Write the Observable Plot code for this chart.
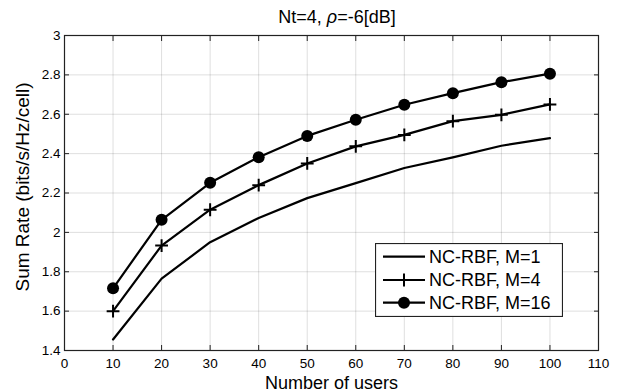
<!DOCTYPE html>
<html>
<head>
<meta charset="utf-8">
<script src="https://cdn.jsdelivr.net/npm/d3@7"></script>
<script src="https://cdn.jsdelivr.net/npm/@observablehq/plot@0.6"></script>
<style>
  html, body { margin: 0; padding: 0; background: #fff; }
  #wrap { position: relative; width: 620px; font-family: "Liberation Sans", Arial, sans-serif; }
  #title { height: 26px; line-height: 34px; font-size: 18px; text-align: center; padding-left: 76px; padding-right: 22px; color: #000; white-space: nowrap; }
  #legend { position: absolute; left: 375px; top: 243px; }
</style>
</head>
<body>
<div id="wrap">
  <div id="title">Nt=4, <i>ρ</i>=-6[dB]</div>
  <div id="chart"></div>
  <div id="legend"></div>
</div>
<script>
const users = [10, 20, 30, 40, 50, 60, 70, 80, 90, 100];
const rateM1 = [1.456, 1.765, 1.950, 2.073, 2.174, 2.250, 2.327, 2.381, 2.440, 2.479];
const rateM4 = [1.600, 1.933, 2.115, 2.240, 2.350, 2.437, 2.495, 2.565, 2.597, 2.650];
const rateM16 = [1.716, 2.064, 2.252, 2.382, 2.490, 2.572, 2.648, 2.707, 2.763, 2.806];
const seriesNames = ["NC-RBF, M=1", "NC-RBF, M=4", "NC-RBF, M=16"];
const xTicks = [0, 10, 20, 30, 40, 50, 60, 70, 80, 90, 100, 110];
const yTicks = [1.4, 1.6, 1.8, 2.0, 2.2, 2.4, 2.6, 2.8, 3.0];
const xLabel = "Number of users";
const yLabel = "Sum Rate (bits/s/Hz/cell)";

const toRows = (vals, name) => users.map((u, i) => ({users: u, rate: vals[i], series: name}));
const d1 = toRows(rateM1, seriesNames[0]);
const d4 = toRows(rateM4, seriesNames[1]);
const d16 = toRows(rateM16, seriesNames[2]);

const fmtY = d => String(+d.toFixed(1));
const font = "Liberation Sans, Arial, sans-serif";

const chart = Plot.plot({
  width: 620,
  height: 365,
  marginTop: 9,
  marginBottom: 41,
  marginLeft: 64,
  marginRight: 22,
  style: {fontFamily: font, background: "#fff", color: "#000", overflow: "visible"},
  x: {domain: [0, 110]},
  y: {domain: [1.4, 3]},
  marks: [
    Plot.gridX(xTicks, {stroke: "#000", strokeOpacity: 0.13, strokeWidth: 1}),
    Plot.gridY(yTicks, {stroke: "#000", strokeOpacity: 0.13, strokeWidth: 1}),
    Plot.axisX({ticks: xTicks, tickSize: -5, tickPadding: 13, fontSize: 13.5, stroke: "#222", label: null}),
    Plot.axisX({anchor: "top", ticks: xTicks, tickSize: -5, tickFormat: () => "", label: null, stroke: "#222"}),
    Plot.axisY({ticks: yTicks, tickSize: -5, tickPadding: 9, fontSize: 13.5, tickFormat: fmtY, stroke: "#222",
      label: yLabel, labelAnchor: "center", labelArrow: "none", labelOffset: 49}),
    Plot.axisY({anchor: "right", ticks: yTicks, tickSize: -5, tickFormat: () => "", label: null, stroke: "#222"}),
    Plot.text([xLabel], {frameAnchor: "bottom", lineAnchor: "bottom", dy: 38, fontSize: 18, fill: "#000"}),
    Plot.frame({stroke: "#222", strokeWidth: 1.2}),
    Plot.line(d1, {x: "users", y: "rate", stroke: "#000", strokeWidth: 2.2}),
    Plot.line(d4, {x: "users", y: "rate", stroke: "#000", strokeWidth: 2.2}),
    Plot.dot(d4, {x: "users", y: "rate", symbol: "plus", r: 4.2, stroke: "#000", strokeWidth: 2}),
    Plot.line(d16, {x: "users", y: "rate", stroke: "#000", strokeWidth: 2.2}),
    Plot.dot(d16, {x: "users", y: "rate", symbol: "circle", r: 6, fill: "#000", stroke: "none"})
  ]
});
// enlarge and nudge the y-axis label (MATLAB-style)
chart.querySelectorAll("g[aria-label='y-axis label']").forEach(g => {
  g.setAttribute("font-size", 19);
  g.querySelectorAll("text").forEach(t => t.setAttribute("font-size", 19));
  const tr = g.getAttribute("transform") || "";
  g.setAttribute("transform", tr + " translate(0,-6)");
});
document.getElementById("chart").appendChild(chart);

// Legend (overlay)
const lw = 188, lh = 74;
const leg = d3.select("#legend").append("svg").attr("width", lw).attr("height", lh)
  .style("font-family", font);
leg.append("rect").attr("x", 0.5).attr("y", 0.5).attr("width", lw - 1).attr("height", lh - 1)
  .attr("fill", "#fff").attr("stroke", "#222").attr("stroke-width", 1.2);
const rowY = [13.7, 37, 59.7];
seriesNames.forEach((name, i) => {
  const g = leg.append("g").attr("transform", `translate(0,${rowY[i]})`);
  g.append("line").attr("x1", 8).attr("x2", 50).attr("y1", 0).attr("y2", 0).attr("stroke", "#000").attr("stroke-width", 2.2);
  if (i === 1) {
    const s = d3.symbol(d3.symbolPlus, Math.PI * 4.2 * 4.2)();
    g.append("path").attr("d", s).attr("transform", "translate(29,0)").attr("stroke", "#000").attr("stroke-width", 2).attr("fill", "none");
  }
  if (i === 2) {
    g.append("circle").attr("cx", 29).attr("cy", 0).attr("r", 6).attr("fill", "#000");
  }
  g.append("text").attr("x", 54).attr("y", 0).attr("dy", "0.35em").attr("font-size", 18).attr("fill", "#000").text(name);
});
</script>
</body>
</html>
